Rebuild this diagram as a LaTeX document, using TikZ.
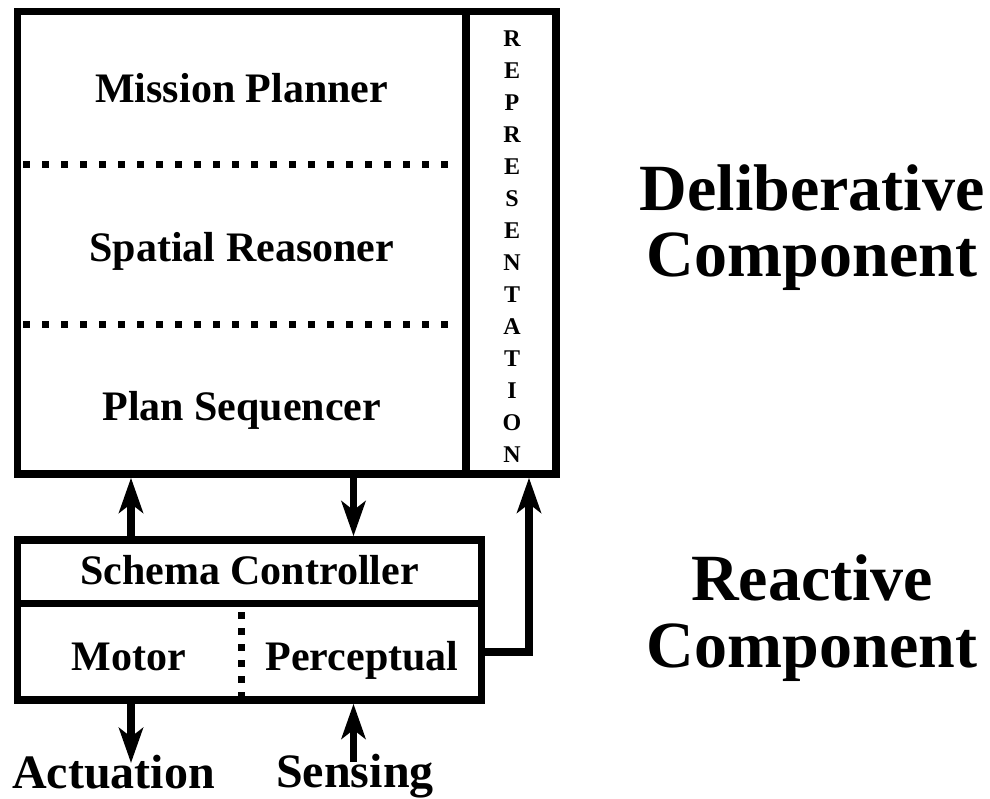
\documentclass[tikz,border=0pt]{standalone}
\usepackage{fontspec}
\setmainfont{Liberation Serif}
\usetikzlibrary{arrows.meta}
\tikzset{
  box/.style={draw, line width=7.5pt, rectangle, inner sep=0pt},
  lbl/.style={font=\fontsize{42}{48}\selectfont\bfseries, anchor=base, inner sep=0pt},
  big/.style={font=\fontsize{66}{72}\selectfont\bfseries, anchor=base, inner sep=0pt},
  io/.style={font=\fontsize{48}{54}\selectfont\bfseries, anchor=base, inner sep=0pt},
  letter/.style={font=\fontsize{24}{26}\selectfont\bfseries, anchor=base, inner sep=0pt},
  arr/.style={line width=7.5pt, -{Stealth[length=35pt,width=24pt,inset=9pt]}},
  dotsep/.style={line width=7pt, dash pattern=on 7pt off 12pt},
  dotsepv/.style={line width=7pt, dash pattern=on 7pt off 9pt}
}
\begin{document}
\begin{tikzpicture}[x=1pt,y=-1pt]
\useasboundingbox (0,0) rectangle (990,799);
% boxes
\node[box, minimum width=448.5pt, minimum height=462.5pt] (delib) at (241.75,242.75) {};
\node[box, minimum width=90pt, minimum height=462.5pt] (repr) at (511,242.75) {};
\node[box, minimum width=464pt, minimum height=63.5pt] (schema) at (249.5,571.75) {};
\node[box, minimum width=464pt, minimum height=96.5pt] (lower) at (249.5,651.75) {};
% separators
\coordinate (d1s) at (23,165); \coordinate (d1e) at (460,165);
\coordinate (d2s) at (23,325); \coordinate (d2e) at (460,325);
\draw[dotsep] (d1s) -- (d1e);
\draw[dotsep] (d2s) -- (d2e);
\coordinate (vds) at (241.5,612); \coordinate (vde) at (241.5,698);
\draw[dotsepv] (vds) -- (vde);
% texts
\node[lbl] (mp) at (241.75,103) {Mission Planner};
\node[lbl] (sr) at (241.75,262) {Spatial Reasoner};
\node[lbl] (ps) at (241.75,420) {Plan Sequencer};
\node[lbl] (sc) at (249.5,584) {Schema Controller};
\node[lbl] (mo) at (129,670) {Motor};
\node[lbl] (pe) at (362,670) {Perceptual};
\foreach \ch [count=\i from 0] in {R,E,P,R,E,S,E,N,T,A,T,I,O,N}{
  \node[letter] (r\i) at (512,46.7+32*\i) {\ch};
}
\node[big] (del) at (812,211) {Deliberative};
\node[big] (com1) at (812,277) {Component};
\node[big] (rea) at (812,600) {Reactive};
\node[big] (com2) at (812,667) {Component};
\node[io] (act) at (113.5,788) {Actuation};
\node[io] (sen) at (355,787) {Sensing};
% connectors
\coordinate (xa) at (131,0);
\coordinate (xs) at (353.5,0);
\coordinate (xr) at (529,0);
\draw[arr] (schema.north -| xa) -- (delib.south -| xa);
\draw[arr] (delib.south -| xs) -- (schema.north -| xs);
\coordinate (bend) at (529,651.75);
\draw[arr] (lower.east) -- (bend) -- (repr.south -| xr);
\coordinate (actend) at (131,763);
\coordinate (senstart) at (353.5,762);
\draw[arr] (lower.south -| xa) -- (actend);
\draw[arr] (senstart) -- (lower.south -| xs);
\end{tikzpicture}
\end{document}
